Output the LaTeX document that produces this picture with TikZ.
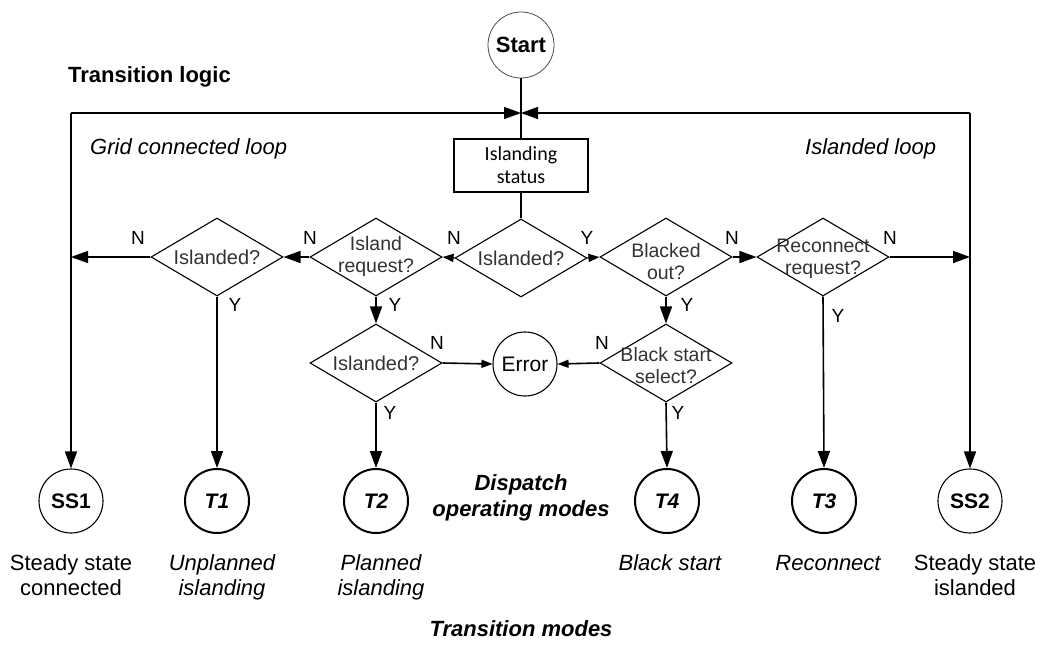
\documentclass[tikz,border=0pt]{standalone}
\usepackage{fontspec}
\setmainfont{Liberation Sans}
\newfontfamily\boxfont{Carlito}
\usetikzlibrary{shapes.geometric,arrows.meta}
\newcommand{\twoline}[2]{\begin{tabular}[t]{@{}c@{}}#1\\#2\end{tabular}}
\begin{document}
\begin{tikzpicture}[x=1pt,y=-1pt,
  conn/.style={line width=1.6pt},
  arr/.style={conn,-{Triangle[length=17pt,width=12pt]}},
  sarr/.style={conn,-{Triangle[length=11pt,width=8pt]}},
  dia/.style={draw,diamond,minimum width=132pt,minimum height=78pt,inner sep=0pt,line width=1.1pt},
  qtext/.style={font=\fontsize{19.5}{22}\selectfont,align=center,text=black!80,inner sep=0pt},
  yn/.style={font=\fontsize{19}{19}\selectfont,inner sep=0pt},
  mode/.style={draw,circle,minimum size=64pt,inner sep=0pt},
  ssmode/.style={mode,line width=1.1pt,font=\fontsize{21}{21}\selectfont\bfseries},
  tmode/.style={mode,line width=2pt,font=\fontsize{21}{21}\selectfont\bfseries\itshape},
  caption/.style={font=\fontsize{22}{25}\selectfont,inner sep=0pt,anchor=base},
  heading/.style={font=\fontsize{22}{26}\selectfont\bfseries\itshape,inner sep=0pt,anchor=base},
]
\useasboundingbox (0,0) rectangle (1044,655);

% entry point and status check
\node[draw,circle,minimum size=66pt,inner sep=0pt,line width=0.8pt,draw=black!70,
      font=\fontsize{22}{22}\selectfont\bfseries] (start) at (521,45) {Start};
\node[draw,line width=2pt,minimum width=134pt,minimum height=53pt,inner sep=0pt,
      align=center,font=\boxfont\fontsize{20}{23}\selectfont] (status) at (521,165.5) {Islanding\\status};

% decision diamonds
\node[dia] (q0) at (521,258) {};
\node[qtext] (q0t) at (q0) {\fontsize{20}{22}\selectfont Islanded?};
\node[dia] (q2) at (376,257) {};
\node[qtext] (q2t) at (376,256) {Island\\request?};
\node[dia] (q1) at (217,257) {};
\node[qtext] (q1t) at (q1) {\fontsize{20}{22}\selectfont Islanded?};
\node[dia] (q4) at (666,257) {};
\node[qtext] (q4t) at (666,262) {Blacked\\out?};
\node[dia] (q5) at (823,257) {};
\node[qtext] (q5t) at (823,259) {Reconnect\\request?};
\node[dia] (q3) at (376,363) {};
\node[qtext] (q3t) at (q3) {\fontsize{20}{22}\selectfont Islanded?};
\node[dia] (q6) at (666,363) {};
\node[qtext] (q6t) at (666,366) {Black start\\select?};

\node[draw,circle,minimum size=64pt,inner sep=0pt,line width=1.1pt,
      font=\fontsize{21}{21}\selectfont] (err) at (525,364) {Error};

% operating modes
\node[ssmode] (ss1) at (71,501) {SS1};
\node[tmode]  (t1)  at (217,501) {T1};
\node[tmode]  (t2)  at (376,501) {T2};
\node[tmode]  (t4)  at (667,501) {T4};
\node[tmode]  (t3)  at (824,501) {T3};
\node[ssmode] (ss2) at (970,501) {SS2};

% loop corners
\coordinate (mid) at (521,113);
\coordinate (lc) at (71,113);
\coordinate (rc) at (970,113);

% connectors
\draw[conn] (start) -- (status);
\draw[conn] (status) -- (q0);
\draw[arr] (lc) -- (mid);
\draw[arr] (rc) -- (mid);
\draw[arr] (lc) -- (ss1);
\draw[arr] (rc) -- (ss2);

\draw[sarr] (q0.west) -- (q2.east);
\draw[sarr] (q0.east) -- (q4.west);
\draw[arr] (q2.west) -- (q1.east);
\draw[arr] (q1.west) -- (q1.west -| lc);
\draw[arr] (q1.south) -- (t1.north);
\draw[arr] (q2.south) -- (q3.north);
\draw[sarr] (q3.east) -- (err.west);
\draw[arr] (q3.south) -- (t2.north);
\draw[arr] (q4.east) -- (q5.west);
\draw[arr] (q4.south) -- (q6.north);
\draw[sarr] (q6.west) -- (err.east);
\draw[arr] (q6.south) -- (t4.north);
\draw[arr] (q5.east) -- (q5.east -| rc);
\draw[arr] (q5.south) -- (t3.north);

% branch labels
\node[yn] (n1) at (138,238) {N};
\node[yn] (n2) at (310,238) {N};
\node[yn] (n0) at (454,238) {N};
\node[yn] (y0) at (587,238) {Y};
\node[yn] (n4) at (732,238) {N};
\node[yn] (n5) at (890,238) {N};
\node[yn] (y1) at (235,305) {Y};
\node[yn] (y2) at (395,305) {Y};
\node[yn] (y4) at (687,305) {Y};
\node[yn] (y5) at (838,316) {Y};
\node[yn] (n3) at (437,343) {N};
\node[yn] (y3) at (390,413) {Y};
\node[yn] (n6) at (602,343) {N};
\node[yn] (y6) at (678,413) {Y};

% titles
\node[font=\fontsize{22}{22}\selectfont\bfseries,inner sep=0pt,anchor=base west] (title) at (68,83) {Transition logic};
\node[font=\fontsize{22}{22}\selectfont\itshape,inner sep=0pt,anchor=base west] (gridloop) at (90,155) {Grid connected loop};
\node[font=\fontsize{22}{22}\selectfont\itshape,inner sep=0pt,anchor=base west] (islloop) at (805,155) {Islanded loop};

% mode captions
\node[caption] (c1) at (71,570) {\twoline{Steady state}{connected}};
\node[caption,font=\fontsize{22}{25}\selectfont\itshape] (c2) at (222,570) {\twoline{Unplanned}{islanding}};
\node[caption,font=\fontsize{22}{25}\selectfont\itshape] (c3) at (381,570) {\twoline{Planned}{islanding}};
\node[caption,font=\fontsize{22}{25}\selectfont\itshape] (c4) at (670,570) {Black start};
\node[caption,font=\fontsize{22}{25}\selectfont\itshape] (c5) at (828,570) {Reconnect};
\node[caption] (c6) at (975,570) {\twoline{Steady state}{islanded}};

\node[heading] (dispatch) at (521,490) {\twoline{Dispatch}{operating modes}};
\node[heading] (tmodes) at (521,636) {Transition modes};
\end{tikzpicture}
\end{document}
